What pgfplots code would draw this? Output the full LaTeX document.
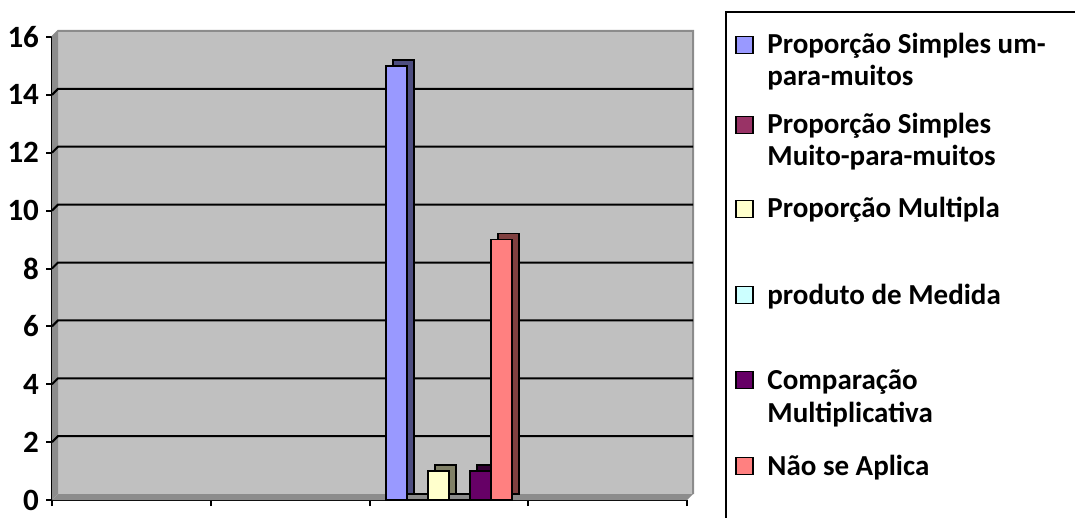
\documentclass[border=0pt]{standalone}
\usepackage{pgfplots}
\pgfplotsset{compat=1.18}
\usepackage{fontspec}
\setmainfont{Carlito}
\definecolor{wall}{HTML}{C0C0C0}
\definecolor{edge}{HTML}{8C8C8C}
\definecolor{cA}{HTML}{9999FF}\definecolor{sA}{HTML}{4D4D80}
\definecolor{cB}{HTML}{993366}\definecolor{sB}{HTML}{4D1A33}
\definecolor{cC}{HTML}{FFFFCC}\definecolor{sC}{HTML}{808066}
\definecolor{cD}{HTML}{CCFFFF}\definecolor{sD}{HTML}{668080}
\definecolor{cE}{HTML}{660066}\definecolor{sE}{HTML}{330033}
\definecolor{cF}{HTML}{FF8080}\definecolor{sF}{HTML}{804040}
\begin{document}
\begin{tikzpicture}[x=1pt,y=1pt]
\useasboundingbox (0,0) rectangle (537.5,-259);
\begin{axis}[
  at={(26pt,-250pt)}, anchor=south west,
  scale only axis, width=317.5pt, height=231.5pt,
  xmin=0, xmax=4, ymin=0, ymax=16,
  xtick={0,1,2,3,4}, xticklabels={},
  ytick={0,2,...,16},
  axis lines*=left,
  tick align=outside, major tick length=3pt,
  axis line style={line width=1pt, black},
  tick style={line width=1pt, black},
  ticklabel style={font=\bfseries\fontsize{15.5}{17}\selectfont},
  /pgf/number format/assume math mode=true,
  clip=false,
  ybar, bar width=10.5pt,
]
% back wall, floor and side wall
\fill[wall] ([shift={(3pt,3pt)}]rel axis cs:0,0) rectangle ([shift={(3pt,3pt)}]rel axis cs:1,1);
\fill[edge] (rel axis cs:0,0) -- (rel axis cs:1,0) -- ([shift={(3pt,3pt)}]rel axis cs:1,0) -- ([shift={(3pt,3pt)}]rel axis cs:0,0) -- cycle;
\fill[edge] (rel axis cs:0,0) -- (rel axis cs:0,1) -- ([shift={(3pt,3pt)}]rel axis cs:0,1) -- ([shift={(3pt,3pt)}]rel axis cs:0,0) -- cycle;
\draw[edge, line width=1pt] (rel axis cs:0,1) -- ([shift={(3pt,3pt)}]rel axis cs:0,1) -- ([shift={(3pt,3pt)}]rel axis cs:1,1) -- ([shift={(3pt,3pt)}]rel axis cs:1,0);
\pgfplotsinvokeforeach{2,4,6,8,10,12,14}{
  \draw[black, line width=1pt] (axis cs:0,#1) -- ([shift={(3pt,3pt)}]axis cs:0,#1) -- ([shift={(3pt,3pt)}]axis cs:4,#1);
}
% bars (side/top then front)
\addplot[fill=sA, draw=black, line width=0.8pt, bar shift=-22.75pt, yshift=3pt] coordinates {(2.5,15)};
\addplot[fill=cA, draw=black, line width=0.8pt, bar shift=-26.25pt] coordinates {(2.5,15)};
\addplot[fill=sB, draw=black, line width=0.8pt, bar shift=-12.25pt, yshift=3pt] coordinates {(2.5,0)};
\addplot[fill=cB, draw=black, line width=0.8pt, bar shift=-15.75pt] coordinates {(2.5,0)};
\addplot[fill=sC, draw=black, line width=0.8pt, bar shift=-1.75pt, yshift=3pt] coordinates {(2.5,1)};
\addplot[fill=cC, draw=black, line width=0.8pt, bar shift=-5.25pt] coordinates {(2.5,1)};
\addplot[fill=sD, draw=black, line width=0.8pt, bar shift=8.75pt, yshift=3pt] coordinates {(2.5,0)};
\addplot[fill=cD, draw=black, line width=0.8pt, bar shift=5.25pt] coordinates {(2.5,0)};
\addplot[fill=sE, draw=black, line width=0.8pt, bar shift=19.25pt, yshift=3pt] coordinates {(2.5,1)};
\addplot[fill=cE, draw=black, line width=0.8pt, bar shift=15.75pt] coordinates {(2.5,1)};
\addplot[fill=sF, draw=black, line width=0.8pt, bar shift=29.75pt, yshift=3pt] coordinates {(2.5,9)};
\addplot[fill=cF, draw=black, line width=0.8pt, bar shift=26.25pt] coordinates {(2.5,9)};
\end{axis}
% legend
\draw[line width=1pt] (545,-6) -- (363,-6) -- (363,-265);
\begin{scope}[every node/.style={anchor=base west, inner sep=0pt, font=\bfseries\fontsize{14.5}{16}\selectfont}]
\draw[fill=cA, line width=0.8pt] (368,-18.25) rectangle (376.5,-26.75);
\node at (383.5,-27) {Proporção Simples um-};
\node at (383.5,-43) {para-muitos};
\draw[fill=cB, line width=0.8pt] (368,-58.25) rectangle (376.5,-66.75);
\node at (383.5,-67) {Proporção Simples};
\node at (383.5,-83) {Muito-para-muitos};
\draw[fill=cC, line width=0.8pt] (368,-100.25) rectangle (376.5,-108.75);
\node at (383.5,-109) {Proporção Multipla};
\draw[fill=cD, line width=0.8pt] (368,-143.25) rectangle (376.5,-151.75);
\node at (383.5,-152) {produto de Medida};
\draw[fill=cE, line width=0.8pt] (368,-185.75) rectangle (376.5,-194.25);
\node at (383.5,-194.5) {Comparação};
\node at (383.5,-211) {Multiplicativa};
\draw[fill=cF, line width=0.8pt] (368,-228.75) rectangle (376.5,-237.25);
\node at (383.5,-237.5) {Não se Aplica};
\end{scope}
\end{tikzpicture}
\end{document}
